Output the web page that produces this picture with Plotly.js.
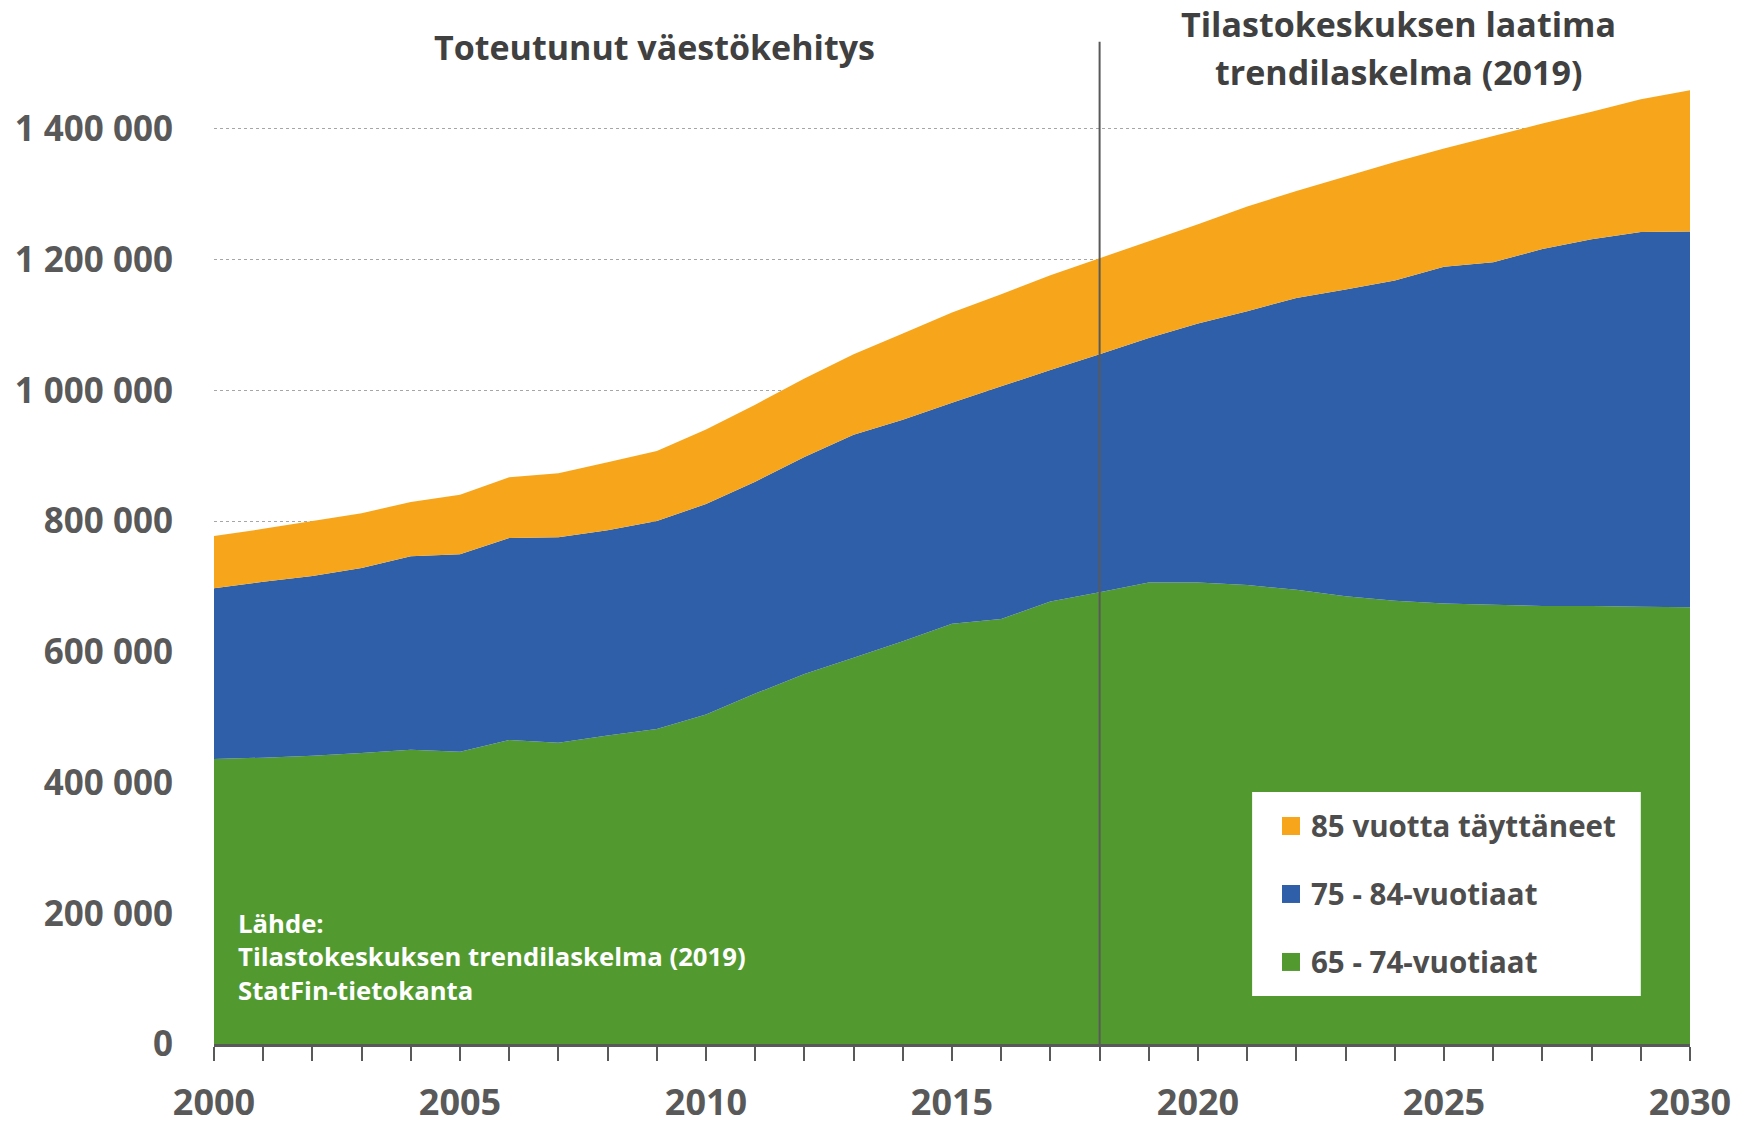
<!DOCTYPE html>
<html>
<head>
<meta charset="utf-8">
<script src="https://cdn.plot.ly/plotly-3.0.1.min.js"></script>
<style>
  html, body { margin: 0; padding: 0; background: #fff; }
  #graph { width: 1741px; height: 1122px; }
</style>
</head>
<body>
<div id="graph"></div>
<script>
// years and population by age group
const years = [];
for (let y = 2000; y <= 2030; y++) years.push(y);

const age65to74 = [436000, 438000, 441000, 445000, 450000, 447000, 465000, 461000, 472000, 482000,
  504000, 536000, 566000, 591000, 616000, 643000, 650000, 677000, 691000, 706000,
  706000, 702000, 695000, 685000, 678000, 674000, 672000, 670000, 670000, 669000, 668000];
const age75to84 = [261000, 269000, 275000, 283000, 296000, 302000, 309000, 314000, 314000, 318000,
  322000, 324000, 332000, 341000, 339000, 338000, 356000, 354000, 364000, 374000,
  396000, 419000, 446000, 469000, 490000, 515000, 524000, 546000, 561000, 573000, 575000];
const age85plus = [80000, 81000, 84000, 84000, 83000, 91000, 93000, 98000, 104000, 107000,
  114000, 118000, 120000, 123000, 132000, 138000, 141000, 145000, 147000, 148000,
  152000, 160000, 164000, 173000, 181000, 181000, 193000, 192000, 195000, 203000, 216000];

const seriesNames = ['65 - 74-vuotiaat', '75 - 84-vuotiaat', '85 vuotta täyttäneet'];
const seriesColors = ['#529a30', '#2f5fa8', '#f7a61b'];
const yTicks = [0, 200000, 400000, 600000, 800000, 1000000, 1200000, 1400000];
const xTicks = [2000, 2005, 2010, 2015, 2020, 2025, 2030];
const splitYear = 2018;

const grey = '#595959';
const font = 'Open Sans, Lato, sans-serif';

const values = [age65to74, age75to84, age85plus];
const data = values.map(function (v, i) {
    return {
        x: years,
        y: v,
        type: 'scatter',
        mode: 'none',
        stackgroup: 'one',
        fillcolor: seriesColors[i],
        name: seriesNames[i],
        showlegend: false,
        hoverinfo: 'skip'
    };
});

// hand-made legend, top item = last series
const legendY = [333500, 229500, 125500];
const shapes = [
    { type: 'line', xref: 'x', yref: 'y', x0: splitYear, x1: splitYear, y0: 0, y1: 1533000,
      line: { color: grey, width: 2 } },
    { type: 'rect', xref: 'x', yref: 'y', x0: 2021.1, x1: 2029.0, y0: 73400, y1: 385600,
      fillcolor: '#ffffff', line: { width: 0 } }
];
const annotations = [
    { text: 'Toteutunut väestökehitys', xref: 'x', yref: 'y', x: 2008.96, y: 1525000,
      showarrow: false, font: { family: font, size: 34, color: '#404040', weight: 700 } },
    { text: 'Tilastokeskuksen laatima', xref: 'x', yref: 'y', x: 2024.07, y: 1561000,
      showarrow: false, font: { family: font, size: 34, color: '#404040', weight: 700 } },
    { text: 'trendilaskelma (2019)', xref: 'x', yref: 'y', x: 2024.07, y: 1487000,
      showarrow: false, font: { family: font, size: 34, color: '#404040', weight: 700 } },
    { text: 'Lähde:<br>Tilastokeskuksen trendilaskelma (2019)<br>StatFin-tietokanta',
      xref: 'x', yref: 'y', x: 2000.45, y: 133000, xanchor: 'left', yanchor: 'middle', align: 'left',
      showarrow: false, font: { family: font, size: 25.7, color: '#ffffff', weight: 700 } }
];
for (let k = 0; k < 3; k++) {
    const i = 2 - k;
    shapes.push({ type: 'rect', xref: 'x', yref: 'y', xsizemode: 'pixel', ysizemode: 'pixel',
        xanchor: 2021.89, yanchor: legendY[k], x0: -9, x1: 9, y0: -9, y1: 9,
        fillcolor: seriesColors[i], line: { width: 0 } });
    annotations.push({ text: seriesNames[i], xref: 'x', yref: 'y', x: 2022.26, y: legendY[k],
        xanchor: 'left', yanchor: 'middle', showarrow: false,
        font: { family: font, size: 29.5, color: '#4d4d4d', weight: 700 } });
}

const layout = {
    width: 1741,
    height: 1122,
    margin: { l: 214, r: 51, t: 0, b: 78 },
    paper_bgcolor: '#ffffff',
    plot_bgcolor: '#ffffff',
    separators: ', ',
    showlegend: false,
    xaxis: {
        range: [2000, 2030],
        tickvals: xTicks,
        ticks: 'outside',
        ticklen: 14,
        tickwidth: 2,
        tickcolor: grey,
        showline: true,
        linecolor: grey,
        linewidth: 3,
        showgrid: false,
        zeroline: false,
        ticklabelstandoff: 11,
        tickfont: { family: font, size: 36, color: grey, weight: 700 },
        minor: { dtick: 1, ticks: 'outside', ticklen: 14, tickwidth: 2, tickcolor: grey, showgrid: false }
    },
    yaxis: {
        range: [0, 1597000],
        tickvals: yTicks,
        tickformat: ',d',
        ticks: '',
        showline: false,
        zeroline: false,
        showgrid: true,
        gridcolor: '#a6a6a6',
        gridwidth: 1,
        griddash: 'dot',
        ticklabelstandoff: 40,
        tickfont: { family: font, size: 35, color: grey, weight: 700 }
    },
    shapes: shapes,
    annotations: annotations
};

Plotly.newPlot('graph', data, layout, { staticPlot: true });
</script>
</body>
</html>
